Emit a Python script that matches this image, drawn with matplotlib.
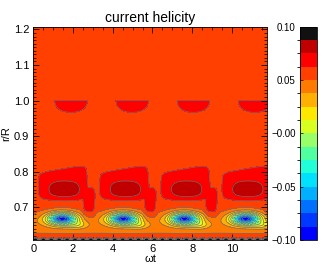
import numpy as np
import matplotlib
matplotlib.use("Agg")
import matplotlib.pyplot as plt
from matplotlib.colors import ListedColormap, BoundaryNorm
from matplotlib.ticker import MultipleLocator

plt.rcParams['font.family'] = ['Liberation Sans', 'DejaVu Sans']

# contour levels and IDL-like colour table (bottom -> top)
levels = np.linspace(-0.1, 0.1, 17)
level_colors = ['#0000ff', '#0038ff', '#0070ff', '#00b0ff', '#00e0ff', '#20ffd8',
                '#50ffa0', '#98ff68', '#d8ff20', '#ffe800', '#ffb000', '#ff7a00',
                '#ff4000', '#ff0000', '#c00000', '#111111']

# domain
wt_min, wt_max = 0.0, 11.75
r_min, r_max = 0.608, 1.208
period = 3.08
n_periods = [-1, 0, 1, 2, 3, 4]
background = 0.056

# structures repeated every period: x centre, r centre, x width, r width, amplitude
cap = dict(x=1.9, r=1.0, wx=1.0, wr=0.042, amp=0.012)           # half disc under r=1
body = dict(x=1.49, r=0.768, wx=1.29, wr_top=0.043, wr_bot=0.049, tilt=0.01, amp=0.013)
tail = dict(x=2.8, r=0.712, wx=0.32, wr=0.046)
core = dict(x=1.57, r=0.75, wx=0.8, wr=0.024, amp=0.016)         # dark red ellipse
band = dict(r=0.655, wr=0.03, amp=-0.014)                        # orange layer
blob = dict(x=1.45, r=0.668, wx=0.7, wr=0.017, amp=-0.14)        # blue minimum
blob_tail = dict(x=2.25, r=0.65, wx=0.45, wr=0.011, amp=-0.02)
edge = dict(wr=0.005, mean=0.04, osc=0.06, wave=0.4)             # noisy bottom boundary

wt = np.linspace(wt_min, wt_max, 700)
r = np.linspace(r_min, r_max, 500)
X, Y = np.meshgrid(wt, r)

Z = np.full_like(X, background)
Z += band['amp'] * np.exp(-((Y - band['r']) / band['wr']) ** 2)

for k in n_periods:
    s = k * period
    # cap
    g = cap['amp'] * np.exp(-np.abs((X - cap['x'] - s) / cap['wx']) ** 2.5 - ((Y - cap['r']) / cap['wr']) ** 2)
    Z += np.where(Y <= cap['r'], g, 0.0)
    # flag shaped red region
    dx = X - body['x'] - s
    wtop = np.clip(body['wr_top'] + body['tilt'] * dx, 0.005, None)
    wr = np.where(Y > body['r'], wtop, body['wr_bot'])
    fb = np.exp(-np.abs(dx / body['wx']) ** 6 - np.abs((Y - body['r']) / wr) ** 6)
    ft = np.exp(-np.abs((X - tail['x'] - s) / tail['wx']) ** 4 - np.abs((Y - tail['r']) / tail['wr']) ** 4)
    Z += body['amp'] * np.maximum(fb, ft)
    Z += core['amp'] * np.exp(-np.abs((X - core['x'] - s) / core['wx']) ** 2.5
                              - np.abs((Y - core['r']) / core['wr']) ** 2.5)
    # blue blob
    Z += blob['amp'] * np.exp(-((X - blob['x'] - s) / blob['wx']) ** 2 - ((Y - blob['r']) / blob['wr']) ** 2)
    Z += blob_tail['amp'] * np.exp(-((X - blob_tail['x'] - s) / blob_tail['wx']) ** 2
                                   - ((Y - blob_tail['r']) / blob_tail['wr']) ** 2)

Z += np.exp(-((Y - r_min) / edge['wr']) ** 2) * (edge['mean'] + edge['osc'] * np.sin(2 * np.pi * X / edge['wave']))
Z = np.clip(Z, -0.0999, 0.0999)

cmap = ListedColormap(level_colors)
norm = BoundaryNorm(levels, cmap.N)

fig = plt.figure(figsize=(3.33, 2.66), dpi=100)
ax = fig.add_axes([0.1, 0.0977, 0.701, 0.8023])
cax = fig.add_axes([0.9009, 0.0977, 0.0521, 0.8023])

cf = ax.contourf(X, Y, Z, levels=levels, cmap=cmap, norm=norm)
ax.contour(X, Y, Z, levels=levels, colors='#707070', linewidths=0.5)

ax.set_xlim(wt_min, wt_max)
ax.set_ylim(r_min, r_max)
ax.set_xticks([0, 2, 4, 6, 8, 10])
ax.set_yticks([0.7, 0.8, 0.9, 1.0, 1.1, 1.2])
ax.xaxis.set_minor_locator(MultipleLocator(0.5))
ax.yaxis.set_minor_locator(MultipleLocator(0.01))
ax.tick_params(which='both', direction='in', top=True, right=True, labelsize=8, pad=3)
ax.tick_params(which='major', length=4, width=0.6)
ax.tick_params(which='minor', length=2, width=0.5)
for sp in ax.spines.values():
    sp.set_linewidth(0.6)
ax.set_title('current helicity', fontsize=10, pad=3)
ax.set_xlabel('\u03c9t', fontsize=8, labelpad=0)
ax.set_ylabel('r/R', fontsize=8, labelpad=2)

cb = fig.colorbar(cf, cax=cax, ticks=[-0.1, -0.05, 0.0, 0.05, 0.1])
cb.ax.yaxis.set_ticks_position('left')
cb.ax.yaxis.set_label_position('left')
cb.ax.set_yticklabels(['\u22120.10', '\u22120.05', '\u22120.00', '0.05', '0.10'])
cb.ax.tick_params(labelsize=7, length=2, direction='in', width=0.5, pad=3)
cb.outline.set_linewidth(0.6)

fig.savefig('out.png', dpi=100)
